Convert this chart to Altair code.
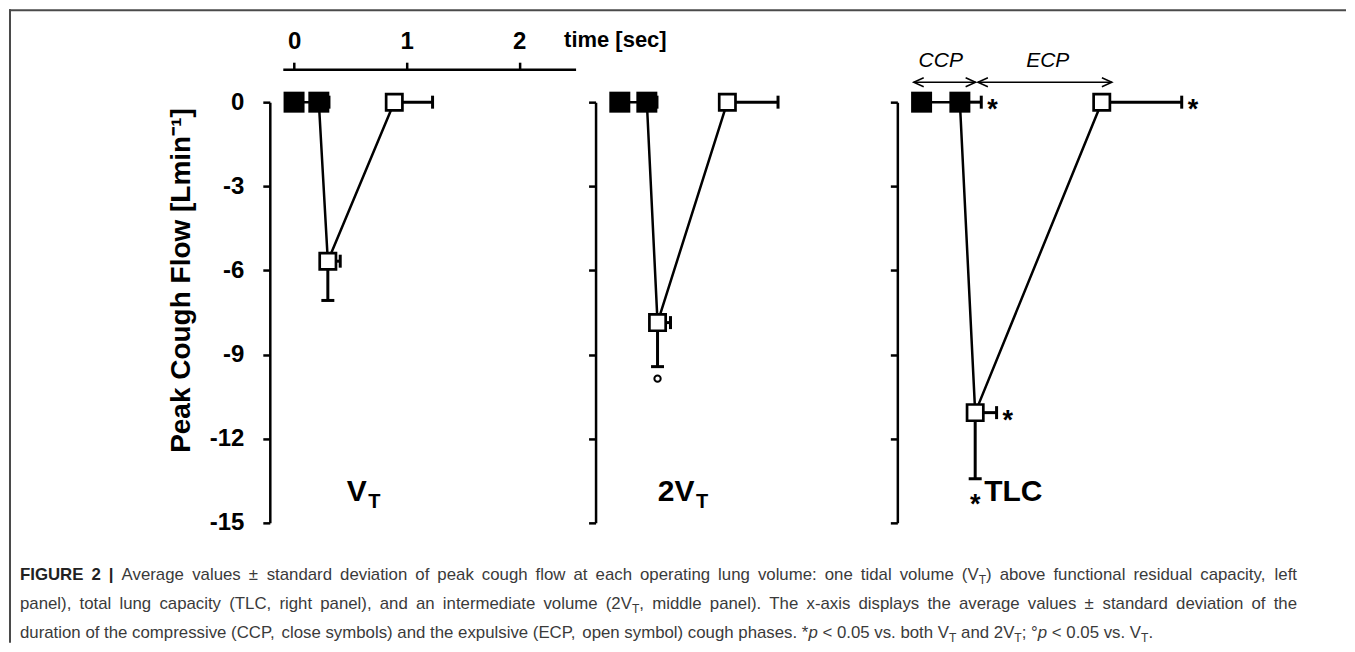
import re
import altair as alt
import pandas as pd

# ---------------- data ----------------
PHASES = ["CCP start", "CCP end", "Peak", "ECP end"]
CLOSED = [True, True, False, False]

VT_TIME = [0.00, 0.22, 0.30, 0.89]
VT_TIME_SD = [0.00, 0.09, 0.11, 0.34]
VT_FLOW = [0.0, 0.0, -5.67, 0.0]
VT_FLOW_SD = [0.0, 0.0, 1.40, 0.0]
VT_TIME_SIG = ["", "", "", ""]
VT_FLOW_SIG = ["", "", "", ""]

V2_TIME = [0.00, 0.24, 0.335, 0.955]
V2_TIME_SD = [0.00, 0.09, 0.115, 0.45]
V2_FLOW = [0.0, 0.0, -7.86, 0.0]
V2_FLOW_SD = [0.0, 0.0, 1.57, 0.0]
V2_TIME_SIG = ["", "", "", ""]
V2_FLOW_SIG = ["", "", "°", ""]

TLC_TIME = [0.00, 0.34, 0.476, 1.60]
TLC_TIME_SD = [0.00, 0.19, 0.19, 0.71]
TLC_FLOW = [0.0, 0.0, -11.07, 0.0]
TLC_FLOW_SD = [0.0, 0.0, 2.36, 0.0]
TLC_TIME_SIG = ["", "*", "*", "*"]
TLC_FLOW_SIG = ["", "", "*", ""]

Y_TICKS = [0, -3, -6, -9, -12, -15]
X_TICKS = [0, 1, 2]

PANEL_MAIN = ["V", "2V", "TLC"]
PANEL_SUB = ["T", "T", ""]

ARROW_LABELS = ["CCP", "ECP"]
ARROW_FROM = [-0.07, 0.50]
ARROW_TO = [0.48, 1.69]
ARROW_LABEL_X = [0.17, 1.12]

Y_TITLE = "Peak Cough Flow [Lmin\u207b\u00b9]"
X_TITLE = "time [sec]"

CAPTION = [
    [("b", "FIGURE 2 |"),
     ("r", " Average values \u00b1 standard deviation of peak cough flow at each operating lung volume: one tidal volume (V"),
     ("s", "T"),
     ("r", ") above functional residual capacity, left")],
    [("r", "panel), total lung capacity (TLC, right panel), and an intermediate volume (2V"),
     ("s", "T"),
     ("r", ", middle panel). The x-axis displays the average values \u00b1 standard deviation of the")],
    [("r", "duration of the compressive (CCP, close symbols) and the expulsive (ECP, open symbol) cough phases. *"),
     ("i", "p"),
     ("r", " < 0.05 vs. both V"), ("s", "T"), ("r", " and 2V"), ("s", "T"),
     ("r", "; \u00b0"), ("i", "p"), ("r", " < 0.05 vs. V"), ("s", "T"), ("r", ".")],
]

# ---------------- layout constants ----------------
FONT = "Liberation Sans"
X_START = -0.1
PX_PER_SEC = 293 / 2.6
PLOT_H = 421
PX_PER_UNIT = PLOT_H / 15
LEFT_W, MID_W, RIGHT_W = 293, 269, 300
SPACING = 33
ORIGIN_X, ORIGIN_Y = 282, 101  # page position of left plot origin


def page_t(px):
    return X_START + (px - ORIGIN_X) / PX_PER_SEC


def page_v(py):
    return -(py - ORIGIN_Y) / PX_PER_UNIT


# ---------------- caption layout (Arial / Liberation Sans metrics) ----------------
REG = {' ': 278, '!': 278, '"': 355, "'": 191, '(': 333, ')': 333, '*': 389, '+': 584,
       ',': 278, '-': 333, '.': 278, '/': 278, ':': 278, ';': 278, '<': 584, '=': 584,
       '>': 584, '?': 556, 'A': 667, 'B': 667, 'C': 722, 'D': 722, 'E': 667, 'F': 611,
       'G': 778, 'H': 722, 'I': 278, 'J': 500, 'K': 667, 'L': 556, 'M': 833, 'N': 722,
       'O': 778, 'P': 667, 'Q': 778, 'R': 722, 'S': 667, 'T': 611, 'U': 722, 'V': 667,
       'W': 944, 'X': 667, 'Y': 667, 'Z': 611, '[': 278, ']': 278, 'a': 556, 'b': 556,
       'c': 500, 'd': 556, 'e': 556, 'f': 278, 'g': 556, 'h': 556, 'i': 222, 'j': 222,
       'k': 500, 'l': 222, 'm': 833, 'n': 556, 'o': 556, 'p': 556, 'q': 556, 'r': 333,
       's': 500, 't': 278, 'u': 556, 'v': 500, 'w': 722, 'x': 500, 'y': 500, 'z': 500,
       '\u00b1': 584, '\u00b0': 400, '|': 260}
for d in "0123456789":
    REG[d] = 556
BOLD = {' ': 278, 'F': 611, 'I': 278, 'G': 778, 'U': 722, 'R': 722, 'E': 667, '2': 556, '|': 280}
SUB_SCALE = 0.72


def em_width(text, style):
    table = BOLD if style == "b" else REG
    w = sum(table.get(c, REG.get(c, 556)) for c in text) / 1000.0
    return w * (SUB_SCALE if style == "s" else 1.0)


CAP_X0 = 19
CAP_BASE = [579, 608, 637]
CAP_TARGET = 1278
fs = (1153 - CAP_X0) / sum(em_width(t, s) for s, t in CAPTION[2])
fs = max(14.0, min(18.0, fs))

cap_rows = []
for k, runs in enumerate(CAPTION):
    chunks = []
    for style, text in runs:
        for part in re.split(r"( )", text):
            if part:
                chunks.append((style, part))
    natural = sum(em_width(p, s) * fs for s, p in chunks)
    nsp = sum(1 for s, p in chunks if p == " ")
    extra = (CAP_TARGET - natural) / nsp if (k < 2 and nsp) else 0.0
    x = CAP_X0
    for s, p in chunks:
        w = em_width(p, s) * fs
        if p == " ":
            x += w + extra
            continue
        yb = CAP_BASE[k] + (0.25 * fs if s == "s" else 0)
        cap_rows.append({"style": s, "txt": p, "cx": page_t(x), "cy": page_v(yb)})
        x += w
cap_df = pd.DataFrame(cap_rows)

frame_df = pd.DataFrame({
    "x": [page_t(8), page_t(9)],
    "x2": [page_t(1346), page_t(9)],
    "y": [page_v(9), page_v(8)],
    "y2": [page_v(9), page_v(642)],
})


# ---------------- panel builder ----------------
def panel(k, time, tsd, flow, fsd, tsig, fsig, width, label_x):
    df = pd.DataFrame({
        "idx": list(range(len(PHASES))), "phase": PHASES, "closed": CLOSED,
        "time": time, "tsd": tsd, "flow": flow, "fsd": fsd,
        "tsig": tsig, "fsig": fsig,
    })
    xs = alt.Scale(domain=[X_START, X_START + width / PX_PER_SEC], nice=False, zero=False)
    ys = alt.Scale(domain=[-15, 0], nice=False, zero=False)
    first = k == 0

    common_y = dict(offset=13, tickSize=7, tickWidth=2.5, domainWidth=2.5,
                    domainColor="black", tickColor="black", grid=False, values=Y_TICKS)
    if first:
        yaxis = alt.Axis(labelFontSize=24, labelFontWeight="bold", labelColor="black",
                         labelPadding=19, labelExpr="'' + datum.value",
                         titleFontSize=28, titleFontWeight="bold", titleColor="black",
                         titlePadding=14, titleY=178, **common_y)
        xaxis = alt.Axis(orient="top", values=X_TICKS, offset=33, tickSize=7, tickWidth=2.5,
                         domainWidth=2.5, domainColor="black", tickColor="black", grid=False,
                         labelFontSize=24, labelFontWeight="bold", labelColor="black",
                         labelPadding=9, titleFontSize=22, titleFontWeight="bold",
                         titleColor="black", titleAngle=0, titleAlign="left",
                         titleBaseline="middle", titleX=281, titleY=-30)

        def xq(f):
            return alt.X(f, scale=xs, axis=xaxis, title=X_TITLE)

        def yq(f):
            return alt.Y(f, scale=ys, axis=yaxis, title=Y_TITLE)
    else:
        yaxis = alt.Axis(labels=False, **common_y)

        def xq(f):
            return alt.X(f, scale=xs, axis=None)

        def yq(f):
            return alt.Y(f, scale=ys, axis=yaxis, title=None)

    base = alt.Chart(df)
    layers = []
    layers.append(base.mark_line(color="black", strokeWidth=2.5).encode(
        x=xq("time:Q"), y=yq("flow:Q"), order="idx:O"))

    hb = base.transform_filter("datum.tsd > 0").transform_calculate(thi="datum.time + datum.tsd")
    layers.append(hb.mark_rule(color="black", strokeWidth=3).encode(
        x=xq("time:Q"), x2="thi:Q", y=yq("flow:Q")))
    layers.append(hb.mark_tick(orient="vertical", size=13, thickness=3, color="black", opacity=1).encode(
        x=xq("thi:Q"), y=yq("flow:Q")))

    vb = base.transform_filter("datum.fsd > 0").transform_calculate(flo="datum.flow - datum.fsd")
    layers.append(vb.mark_rule(color="black", strokeWidth=3).encode(
        x=xq("time:Q"), y=yq("flow:Q"), y2="flo:Q"))
    layers.append(vb.mark_tick(orient="horizontal", size=13, thickness=3, color="black", opacity=1).encode(
        x=xq("time:Q"), y=yq("flo:Q")))

    layers.append(base.transform_filter("datum.closed").mark_square(
        size=441, filled=True, color="black", opacity=1).encode(x=xq("time:Q"), y=yq("flow:Q")))
    layers.append(base.transform_filter("!datum.closed").mark_square(
        size=265, filled=True, fill="white", stroke="black", strokeWidth=2.7, opacity=1).encode(
        x=xq("time:Q"), y=yq("flow:Q")))

    ts = base.transform_filter("datum.tsig == '*'").transform_calculate(thi="datum.time + datum.tsd")
    layers.append(ts.mark_text(text="*", align="left", baseline="middle", dx=6, dy=8,
                               fontSize=27, fontWeight="bold", color="black").encode(
        x=xq("thi:Q"), y=yq("flow:Q")))
    fsa = base.transform_filter("datum.fsig == '*'").transform_calculate(flo="datum.flow - datum.fsd")
    layers.append(fsa.mark_text(text="*", align="center", baseline="middle", dy=26,
                                fontSize=27, fontWeight="bold", color="black").encode(
        x=xq("time:Q"), y=yq("flo:Q")))
    fdg = base.transform_filter("datum.fsig == '°'").transform_calculate(flo="datum.flow - datum.fsd")
    layers.append(fdg.mark_point(shape="circle", filled=False, size=40, strokeWidth=2,
                                 color="black", opacity=1, yOffset=12).encode(
        x=xq("time:Q"), y=yq("flo:Q")))

    # panel label
    main, sub = PANEL_MAIN[k], PANEL_SUB[k]
    lab = pd.DataFrame({"txt": [main], "lx": [label_x], "ly": [page_v(500)]})
    layers.append(alt.Chart(lab).mark_text(
        align="right" if sub else "center", baseline="alphabetic", fontSize=30,
        fontWeight="bold", color="black").encode(x=xq("lx:Q"), y=yq("ly:Q"), text="txt:N"))
    if sub:
        sl = pd.DataFrame({"txt": [sub], "lx": [label_x + 1.5 / PX_PER_SEC], "ly": [page_v(507)]})
        layers.append(alt.Chart(sl).mark_text(
            align="left", baseline="alphabetic", fontSize=20, fontWeight="bold",
            color="black").encode(x=xq("lx:Q"), y=yq("ly:Q"), text="txt:N"))

    if k == 2:
        arr = pd.DataFrame({"lab": ARROW_LABELS, "a0": ARROW_FROM, "a1": ARROW_TO,
                            "lx": ARROW_LABEL_X, "lev": [0.71, 0.71], "llev": [1.45, 1.45]})
        ab = alt.Chart(arr)
        layers.append(ab.mark_rule(color="black", strokeWidth=1.5).encode(
            x=xq("a0:Q"), x2="a1:Q", y=yq("lev:Q")))
        layers.append(ab.mark_point(shape="M1,-0.45L0,0L1,0.45", size=400, filled=False,
                                    color="black", strokeWidth=1.5, opacity=1).encode(
            x=xq("a0:Q"), y=yq("lev:Q")))
        layers.append(ab.mark_point(shape="M-1,-0.45L0,0L-1,0.45", size=400, filled=False,
                                    color="black", strokeWidth=1.5, opacity=1).encode(
            x=xq("a1:Q"), y=yq("lev:Q")))
        layers.append(ab.mark_text(align="center", baseline="middle", fontSize=21,
                                   fontStyle="italic", color="black").encode(
            x=xq("lx:Q"), y=yq("llev:Q"), text="lab:N"))

    if first:
        fb = alt.Chart(frame_df)
        layers.append(fb.mark_rule(color="#4a4a4a", strokeWidth=2).encode(
            x=xq("x:Q"), x2="x2:Q", y=yq("y:Q"), y2="y2:Q"))
        cb = alt.Chart(cap_df)
        styles = {
            "b": dict(fontWeight="bold", fontSize=fs, color="#222222"),
            "r": dict(fontSize=fs, color="#3a3a3a"),
            "i": dict(fontStyle="italic", fontSize=fs, color="#3a3a3a"),
            "s": dict(fontSize=fs * SUB_SCALE, color="#3a3a3a"),
        }
        for st, kw in styles.items():
            layers.append(cb.transform_filter(alt.datum.style == st).mark_text(
                align="left", baseline="alphabetic", **kw).encode(
                x=xq("cx:Q"), y=yq("cy:Q"), text="txt:N"))

    return alt.layer(*layers).properties(width=width, height=PLOT_H)


p1 = panel(0, VT_TIME, VT_TIME_SD, VT_FLOW, VT_FLOW_SD, VT_TIME_SIG, VT_FLOW_SIG, LEFT_W, 0.645)
p2 = panel(1, V2_TIME, V2_TIME_SD, V2_FLOW, V2_FLOW_SD, V2_TIME_SIG, V2_FLOW_SIG, MID_W, 0.663)
p3 = panel(2, TLC_TIME, TLC_TIME_SD, TLC_FLOW, TLC_FLOW_SD, TLC_TIME_SIG, TLC_FLOW_SIG, RIGHT_W, 0.814)

chart = (
    alt.hconcat(p1, p2, p3, spacing=SPACING, bounds="flush")
    .properties(padding=0, background="white")
    .configure(font=FONT)
    .configure_view(strokeWidth=0)
)

chart.save("out.html", embed_options={"renderer": "svg", "actions": False})
